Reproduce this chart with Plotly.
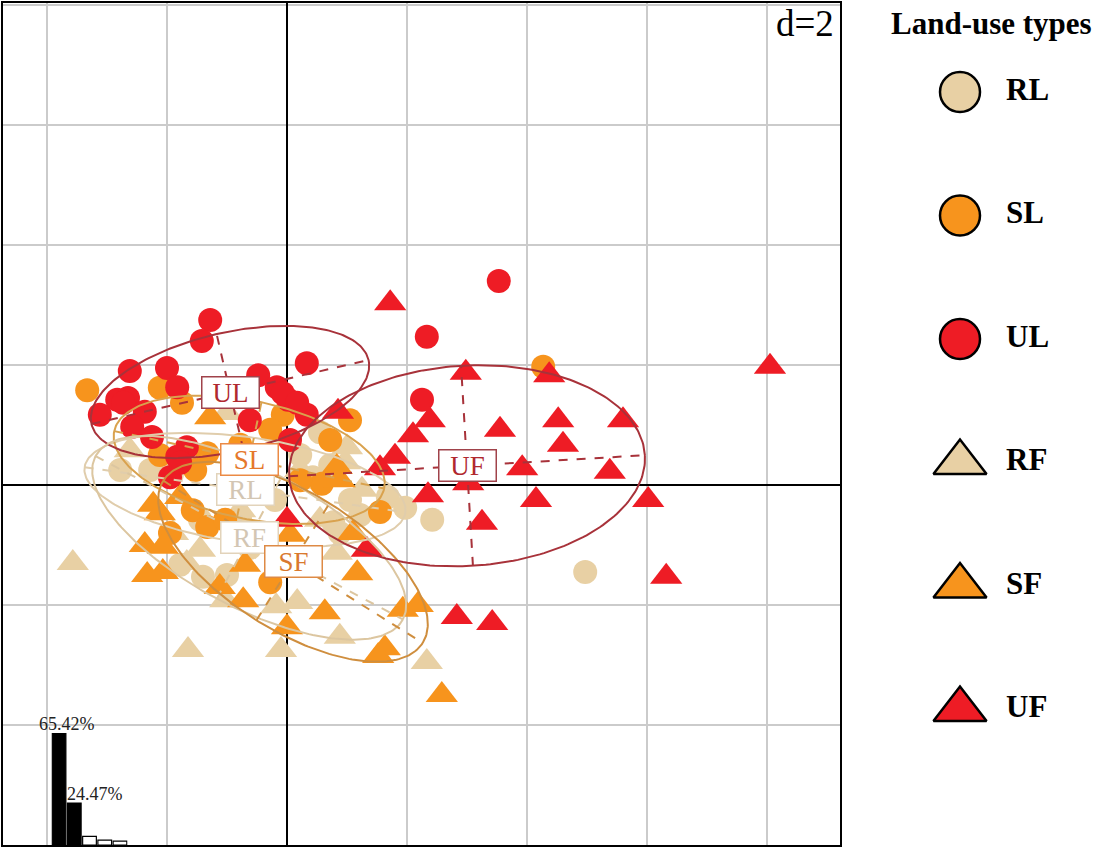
import numpy as np
import plotly.graph_objects as go

# ---------------- data (axis units; d = 2) ----------------
GROUPS = ["RL", "SL", "UL", "RF", "SF", "UF"]

RL_x = [4.97, 2.42, 1.68, 1.97, 0.55, 0.77, 0.43, -1.78, -1.40, -1.00, 1.05, 1.22,
        -2.28, -2.78, -0.45, 0.22, -1.45, -0.78, 0.72, -0.20, -0.62, -1.92, 0.88]
RL_y = [-1.45, -0.58, -0.20, -0.38, 0.88, -0.62, 0.13, -1.33, -1.53, -1.50, -0.25, -0.50,
        0.25, 0.25, 0.25, 0.50, -0.58, -0.58, 0.33, -0.25, -1.05, 0.17, -0.80]

SL_x = [-3.33, 4.27, 1.55, 0.58, -2.12, -1.75, -0.07, 1.05, -1.33, -1.57, -1.33, -1.95,
        -0.28, -1.03, -0.28, 0.22, -0.78, -2.12, 0.72, -1.53]
SL_y = [1.58, 1.97, -0.45, 0.02, 1.62, 1.37, 1.17, 1.08, 0.53, -0.42, -0.70, -0.80,
        -1.62, -0.58, 0.92, 0.08, 0.67, 0.50, 0.75, 0.25]

UL_x = [-1.28, -1.42, -2.62, -2.00, -1.83, -2.83, -2.65, -3.12, -2.37, -2.58, -2.25, -0.48,
        -0.17, 0.02, 0.33, 0.33, -0.62, -1.67, -1.83, -1.95, 0.05, 2.25, 2.33, 3.53,
        -1.78, -2.73, -0.07, 0.17]
UL_y = [2.75, 2.40, 1.90, 1.95, 1.63, 1.42, 1.45, 1.17, 1.22, 0.97, 0.80, 1.83,
        1.63, 1.42, 2.03, 1.17, 1.08, 0.63, 0.47, 0.13, 0.75, 1.42, 2.47, 3.40,
        0.37, 1.37, 1.53, 1.37]

RF_x = [-3.57, -1.65, -0.10, 2.33, 0.88, -0.18, 0.17, -1.00, 1.00, 0.97, -2.62, -1.90,
        -1.67, -1.45, 0.83, -0.78, -0.45, 0.55, 1.25, 0.22, -2.20, -1.03, -0.12]
RF_y = [-1.30, -2.75, -2.75, -2.95, -2.53, -2.02, -1.95, 1.20, 0.63, 0.38, 0.58, -0.80,
        -1.30, -1.08, -1.13, -0.42, -0.92, -0.58, -0.08, 0.25, 0.25, -1.92, -1.33]

SF_x = [-2.23, -1.78, -1.28, -2.37, -2.07, -2.33, -2.07, -1.12, -0.70, -0.73, 0.05, 1.10,
        1.17, 0.63, 0.00, 1.93, 2.18, 1.63, 1.52, 2.58, 0.88, -2.12, 0.83]
SF_y = [-0.33, -0.20, 1.13, -1.00, -1.03, -1.50, -1.45, -1.70, -1.33, -1.92, -0.83, -0.80,
        -1.47, -2.12, -2.37, -2.08, -2.00, -2.72, -2.85, -3.50, 0.08, -0.47, 0.30]

UF_x = [1.72, 2.98, 4.37, 8.05, 0.85, 2.38, 2.10, 3.55, 4.52, 4.60, 5.60, 1.80, 1.55,
        3.92, 5.38, 3.02, 2.35, 4.15, 6.02, 3.25, 6.32, 2.83, 3.42, 1.33, 0.00]
UF_y = [3.03, 1.87, 1.83, 1.97, 1.22, 1.08, 0.83, 0.92, 1.08, 0.67, 1.08, 0.47, 0.28,
        0.28, 0.22, 0.03, -0.17, -0.25, -0.25, -0.63, -1.53, -2.20, -2.30, -1.08, -0.58]

# class ellipses (centre = class centroid, semi-axes, rotation in degrees), order of GROUPS
ELL_CX = [-0.70, -0.63, -0.95, -0.63, 0.10, 3.00]
ELL_CY = [-0.08, 0.42, 1.55, -0.88, -1.28, 0.32]
ELL_A = [2.70, 2.30, 2.37, 2.90, 2.55, 2.97]
ELL_B = [0.88, 0.98, 0.99, 1.15, 1.15, 1.67]
ELL_ANGLE = [-8, -12, 13, -28, -32, 3.4]

# eigenvalue inset
EIG_PCT = [65.42, 24.47, 5.00, 2.80, 2.31]
EIG_LABELS = ["65.42%", "24.47%"]
GRID_D = 2

# ---------------- styling ----------------
W, H = 1097, 848
SERIF = "Liberation Serif"
POINTS = {"RL": RL_x, "SL": SL_x, "UL": UL_x, "RF": RF_x, "SF": SF_x, "UF": UF_x}
POINTS_Y = {"RL": RL_y, "SL": SL_y, "UL": UL_y, "RF": RF_y, "SF": SF_y, "UF": UF_y}
FILL = {"RL": "#E8D0A4", "SL": "#F7941D", "UL": "#EE1C25",
        "RF": "#E8D0A4", "SF": "#F7941D", "UF": "#EE1C25"}
SYMBOL = {"RL": "circle", "SL": "circle", "UL": "circle",
          "RF": "triangle-up", "SF": "triangle-up", "UF": "triangle-up"}
ELL_COL = {"RL": "#E0CDAC", "SL": "#D9A24E", "UL": "#A8323A",
           "RF": "#DCC6A0", "SF": "#CF8E3E", "UF": "#A8323A"}
LAB_COL = {"RL": "#D3C6B3", "SL": "#E5782B", "UL": "#B0282E",
           "RF": "#D3C6B3", "SF": "#D9792E", "UF": "#B0282E"}
BOX_COL = {"RL": "#E2D3BA", "SL": "#EB8A45", "UL": "#A0424A",
           "RF": "#E2D3BA", "SF": "#DE8A45", "UF": "#A0424A"}

# main panel placement (pixels of the 1097x848 page)
PX_L, PX_R, PX_T, PX_B = 3, 840, 3, 845
ORIGIN_PX = (287, 485)
UNIT_PX = 60.0

fig = go.Figure()

# points
for g in ["RL", "RF", "SL", "SF", "UL", "UF"]:
    fig.add_trace(go.Scatter(
        x=POINTS[g], y=POINTS_Y[g], mode="markers", showlegend=False, hoverinfo="skip",
        marker=dict(symbol=SYMBOL[g], color=FILL[g], opacity=1,
                    size=24 if SYMBOL[g] == "circle" else 28, line=dict(width=0)),
        xaxis="x", yaxis="y"))

# ellipses + dashed axes
t = np.linspace(0, 2 * np.pi, 240)
for i, g in enumerate(GROUPS):
    cx, cy, a, b = ELL_CX[i], ELL_CY[i], ELL_A[i], ELL_B[i]
    th = np.deg2rad(ELL_ANGLE[i])
    ex = cx + a * np.cos(th) * np.cos(t) - b * np.sin(th) * np.sin(t)
    ey = cy + a * np.sin(th) * np.cos(t) + b * np.cos(th) * np.sin(t)
    fig.add_trace(go.Scatter(x=ex, y=ey, mode="lines", showlegend=False, hoverinfo="skip",
                             line=dict(color=ELL_COL[g], width=2)))
    mx = [cx - a * np.cos(th), cx + a * np.cos(th), None, cx + b * np.sin(th), cx - b * np.sin(th)]
    my = [cy - a * np.sin(th), cy + a * np.sin(th), None, cy - b * np.cos(th), cy + b * np.cos(th)]
    fig.add_trace(go.Scatter(x=mx, y=my, mode="lines", showlegend=False, hoverinfo="skip",
                             line=dict(color=ELL_COL[g], width=2, dash="dash")))

annotations = []
for i, g in enumerate(GROUPS):
    annotations.append(dict(
        x=ELL_CX[i], y=ELL_CY[i], xref="x", yref="y", text=g, showarrow=False,
        font=dict(family=SERIF, size=27, color=LAB_COL[g]),
        bgcolor="white", bordercolor=BOX_COL[g], borderwidth=1.5, borderpad=2,
        width=52, height=26))

# d = 2
annotations.append(dict(x=836 / W, y=1 - 1 / H, xref="paper", yref="paper",
                        xanchor="right", yanchor="top", showarrow=False,
                        text="d=%d" % GRID_D, font=dict(family=SERIF, size=37, color="black")))

# eigenvalue inset
fig.add_trace(go.Bar(
    x=list(range(1, len(EIG_PCT) + 1)), y=EIG_PCT, width=0.9, showlegend=False,
    hoverinfo="skip",
    marker=dict(color=["black" if i < len(EIG_LABELS) else "white" for i in range(len(EIG_PCT))],
                line=dict(color="black", width=1.2)),
    xaxis="x3", yaxis="y3"))
for i, lab in enumerate(EIG_LABELS):
    annotations.append(dict(x=i + 1, y=EIG_PCT[i], xref="x3", yref="y3", text=lab,
                            showarrow=False, xanchor="center", yanchor="bottom",
                            xshift=[8, 21][i], yshift=-3,
                            font=dict(family=SERIF, size=18, color="#222222")))

# right-hand legend
idx = list(range(len(GROUPS)))
fig.add_trace(go.Scatter(
    x=[0] * len(GROUPS), y=idx, mode="markers", showlegend=False, hoverinfo="skip",
    marker=dict(symbol=[SYMBOL[g] for g in GROUPS], color=[FILL[g] for g in GROUPS],
                size=[40 if SYMBOL[g] == "circle" else 46 for g in GROUPS], opacity=1,
                line=dict(color="black", width=2.5)),
    xaxis="x4", yaxis="y4"))
fig.add_trace(go.Scatter(
    x=[0.92] * len(GROUPS), y=idx, mode="text", text=["<b>%s</b>" % g for g in GROUPS],
    textposition="middle right", showlegend=False, hoverinfo="skip",
    textfont=dict(family=SERIF, size=31, color="black"),
    xaxis="x4", yaxis="y4"))
annotations.append(dict(x=991 / W, y=1 - 4 / H, xref="paper", yref="paper",
                        xanchor="center", yanchor="top", showarrow=False,
                        text="<b>Land-use types</b>",
                        font=dict(family=SERIF, size=31, color="black")))

x_rng = [(PX_L - ORIGIN_PX[0]) / UNIT_PX, (PX_R - ORIGIN_PX[0]) / UNIT_PX]
y_rng = [(ORIGIN_PX[1] - PX_B) / UNIT_PX, (ORIGIN_PX[1] - PX_T) / UNIT_PX]
axis_common = dict(showticklabels=False, ticks="", dtick=GRID_D, tick0=0,
                   showgrid=True, gridcolor="#CBCBCB", gridwidth=1.5,
                   zeroline=True, zerolinecolor="black", zerolinewidth=1.8,
                   showline=True, mirror=True, linecolor="black", linewidth=2.2)

leg_first, leg_step = 92.0, 123.5
fig.update_layout(
    width=W, height=H, margin=dict(l=0, r=0, t=0, b=0),
    paper_bgcolor="white", plot_bgcolor="white",
    xaxis=dict(domain=[PX_L / W, PX_R / W], range=x_rng, **axis_common),
    yaxis=dict(domain=[1 - PX_B / H, 1 - PX_T / H], range=y_rng, **axis_common),
    xaxis3=dict(domain=[51.4 / W, 127.6 / W], range=[0.5, 5.5], visible=False, anchor="y3"),
    yaxis3=dict(domain=[1 - PX_B / H, 1 - 733 / H], range=[0, EIG_PCT[0]], visible=False,
                anchor="x3"),
    xaxis4=dict(domain=[850 / W, 1], range=[-2.2, 2.74], visible=False, anchor="y4"),
    yaxis4=dict(domain=[0, 1], range=[(H - leg_first) / leg_step, -leg_first / leg_step],
                visible=False, anchor="x4"),
    annotations=annotations,
    showlegend=False,
)

fig.write_html(
    "out.html",
    config={"displayModeBar": False},
    post_script="document.body.style.margin='0';document.body.style.overflow='hidden';",
)
